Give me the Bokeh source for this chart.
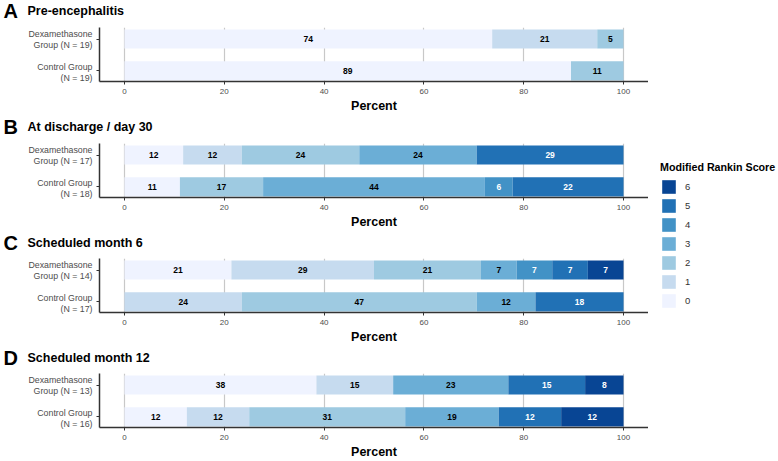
from bokeh.plotting import figure
from bokeh.layouts import row, column
from bokeh.models import ColumnDataSource, FixedTicker, Legend, LegendItem, Range1d
from bokeh.embed import file_html
from bokeh.resources import INLINE
from bokeh.core.properties import value

FONT = "Liberation Sans"

# Modified Rankin Score levels and colours
levels = [0, 1, 2, 3, 4, 5, 6]
colors = ["#eff3ff", "#c6dbef", "#9ecae1", "#6baed6", "#4292c6", "#2171b5", "#084594"]

panel_letters = ["A", "B", "C", "D"]
panel_titles = ["Pre-encephalitis", "At discharge / day 30", "Scheduled month 6", "Scheduled month 12"]
dex_n = [19, 17, 14, 13]
ctrl_n = [19, 18, 17, 16]

# percent of patients per mRS level 0..6
dex_pct = [
    [73.68, 21.05, 5.26, 0, 0, 0, 0],
    [11.76, 11.76, 23.53, 23.53, 0, 29.41, 0],
    [21.43, 28.57, 21.43, 7.14, 7.14, 7.14, 7.14],
    [38.46, 15.38, 0, 23.08, 0, 15.38, 7.69],
]
ctrl_pct = [
    [89.47, 0, 10.53, 0, 0, 0, 0],
    [11.11, 0, 16.67, 44.44, 5.56, 22.22, 0],
    [0, 23.53, 47.06, 11.76, 0, 17.65, 0],
    [12.5, 12.5, 31.25, 18.75, 0, 12.5, 12.5],
]

x_ticks = [0, 20, 40, 60, 80, 100]

Y_LO, Y_HI = 0.67, 2.36
PW = 648
LW = 93
TOP = 3
FRAME_H = 56
HEADER_H = [24, 25, 24, 24]
TEXT_FROM_TOP = [10, 11.5, 11, 11]
BOT = [32, 32, 32, 32]


def blank(width, height, xr, yr, **kw):
    p = figure(width=width, height=height, x_range=xr, y_range=yr,
               output_backend="svg", toolbar_location=None,
               x_axis_location=None, y_axis_location=None, frame_align=False, **kw)
    p.outline_line_color = None
    p.grid.visible = False
    return p


def make_header(i):
    h = HEADER_H[i]
    ty = h - TEXT_FROM_TOP[i]
    p = blank(PW, h, Range1d(0, PW), Range1d(0, h), min_border=0)
    p.text(x=[3], y=[ty], text=[panel_letters[i]], text_font=value(FONT), text_font_style="bold",
           text_font_size="20px", text_baseline="middle", text_color="black")
    p.text(x=[27], y=[ty], text=[panel_titles[i]], text_font=value(FONT), text_font_style="bold",
           text_font_size="12.5px", text_baseline="middle", text_color="black")
    return p


def make_labels(i, yr):
    p = blank(LW, TOP + FRAME_H + BOT[i], Range1d(0, LW), yr, min_border_left=0, min_border_right=0,
              min_border_top=TOP, min_border_bottom=BOT[i])
    names = [("Dexamethasone", "Group (N = %d)" % dex_n[i]), ("Control Group", "(N = %d)" % ctrl_n[i])]
    ys = [2, 1]
    for (l1, l2), y in zip(names, ys):
        for t, off in [(l1, -5.5), (l2, 5.5)]:
            p.text(x=[LW - 1], y=[y], text=[t], y_offset=off, text_align="right", text_baseline="middle",
                   text_font=value(FONT), text_font_size="8.8px", text_color="#4d4d4d")
    return p


def make_panel(i, yr):
    p = figure(width=PW - LW, height=TOP + FRAME_H + BOT[i], x_range=Range1d(-5, 105), y_range=yr,
               output_backend="svg", toolbar_location=None, frame_align=False,
               min_border_left=6, min_border_right=0, min_border_top=TOP, min_border_bottom=BOT[i])
    p.outline_line_color = None
    left, right, ys, cols = [], [], [], []
    lx, ly, lt, lc = [], [], [], []
    for y, pct in [(2, dex_pct[i]), (1, ctrl_pct[i])]:
        acc = 0.0
        for lev, v in zip(levels, pct):
            if v > 0:
                left.append(acc)
                right.append(acc + v)
                ys.append(y)
                cols.append(colors[lev])
                lx.append(acc + v / 2)
                ly.append(y)
                lt.append(str(round(v)))
                lc.append("white" if lev >= 4 else "black")
                acc += v
    src = ColumnDataSource(dict(y=ys, left=left, right=right, c=cols))
    p.hbar(y="y", left="left", right="right", height=0.6, fill_color="c", line_color=None, source=src)
    tsrc = ColumnDataSource(dict(x=lx, y=ly, t=lt, c=lc))
    p.text(x="x", y="y", text="t", text_color="c", text_align="center", text_baseline="middle",
           text_font=value(FONT), text_font_style="bold", text_font_size="8.5px", source=tsrc)

    # grid
    p.ygrid.visible = False
    p.xgrid.ticker = FixedTicker(ticks=x_ticks)
    p.xgrid.grid_line_color = "#c8c8c8"
    p.xgrid.grid_line_width = 1.2

    # x axis
    xa = p.xaxis[0]
    xa.ticker = FixedTicker(ticks=x_ticks)
    xa.axis_label = "Percent"
    xa.axis_label_text_font = FONT
    xa.axis_label_text_font_style = "bold"
    xa.axis_label_text_font_size = "12.5px"
    xa.axis_label_text_color = "black"
    xa.axis_label_standoff = 2
    xa.major_label_text_font = FONT
    xa.major_label_text_font_size = "8px"
    xa.major_label_text_color = "#4d4d4d"
    xa.major_tick_out = 3
    xa.major_tick_in = 0
    xa.minor_tick_out = 0
    xa.minor_tick_in = 0
    xa.axis_line_color = "#333333"
    xa.axis_line_width = 1.5
    xa.major_tick_line_color = "#333333"
    xa.major_label_standoff = 4

    # y axis: line and category ticks only (labels drawn in the neighbouring label figure)
    ya = p.yaxis[0]
    ya.ticker = FixedTicker(ticks=[], minor_ticks=[1, 2])
    ya.major_tick_out = 0
    ya.major_tick_in = 0
    ya.minor_tick_out = 3
    ya.minor_tick_in = 0
    ya.minor_tick_line_color = "#333333"
    ya.minor_tick_line_width = 1
    ya.axis_line_color = "#333333"
    ya.axis_line_width = 1.5
    return p


blocks = []
for i in range(4):
    yr = Range1d(Y_LO, Y_HI)
    blocks.append(make_header(i))
    blocks.append(row(make_labels(i, yr), make_panel(i, yr)))

TOTAL_H = sum(HEADER_H) + sum(TOP + FRAME_H + b for b in BOT)

lf = blank(130, TOTAL_H, Range1d(0, 1), Range1d(0, 1), min_border=0)
items = []
for lev in reversed(levels):
    r = lf.rect(x=[5], y=[5], width=1, height=1, fill_color=colors[lev], line_color=None)
    items.append(LegendItem(label=str(lev), renderers=[r]))
leg = Legend(items=items, location=(12, TOTAL_H - 309), title="Modified Rankin Score",
             title_text_font=FONT, title_text_font_style="bold", title_text_font_size="10.7px",
             title_text_color="black", title_standoff=5,
             label_text_font=FONT, label_text_font_size="9.5px", label_text_color="#333333",
             glyph_width=17, glyph_height=17, label_height=17, label_standoff=8, spacing=2,
             padding=0, margin=0, border_line_color=None, background_fill_alpha=0)
lf.add_layout(leg)

layout = row(column(*blocks), lf)

open("out.html", "w").write(file_html(layout, INLINE))
